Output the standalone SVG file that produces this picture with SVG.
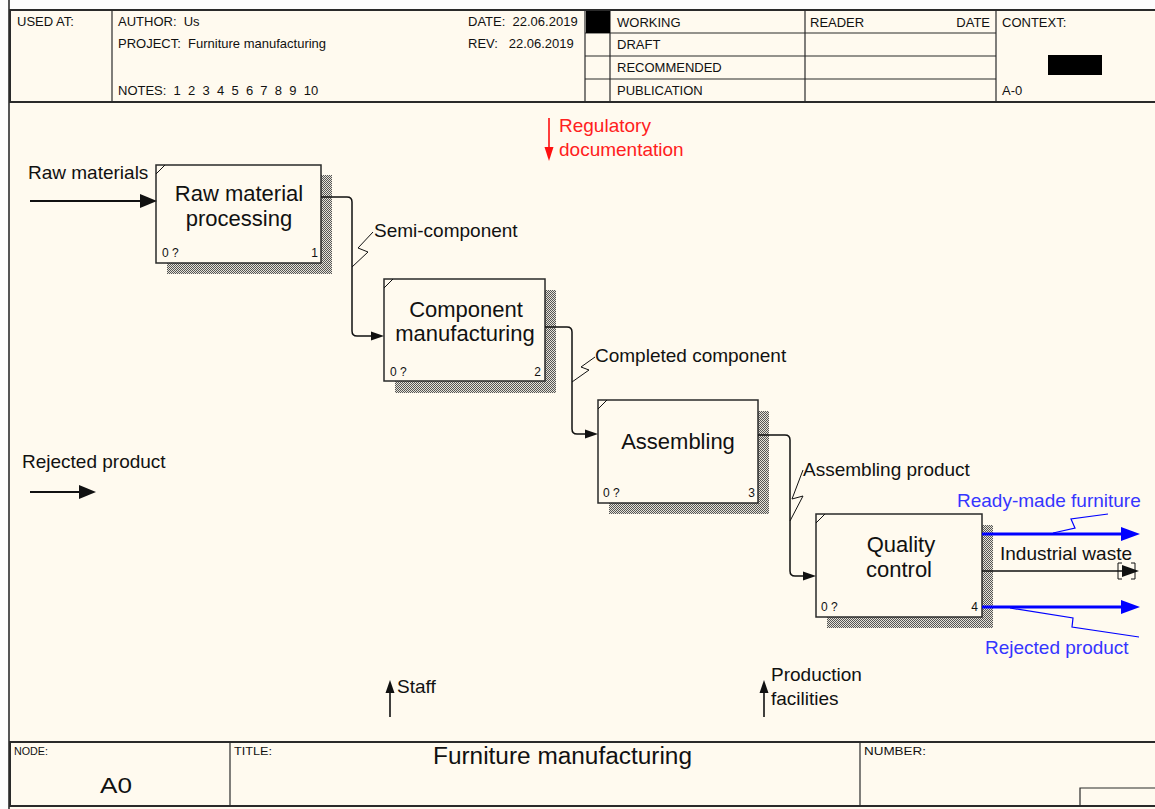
<svg xmlns="http://www.w3.org/2000/svg" width="1155" height="809" viewBox="0 0 1155 809">
<style>
.bg{fill:#fffaef}
.frame{fill:none;stroke:#2a2a2a;stroke-width:2}
.thin{fill:none;stroke:#2a2a2a;stroke-width:1.2}
.hdr{font-family:"Liberation Sans",Arial,sans-serif;font-size:13px;fill:#111;white-space:pre}
.ftr{font-family:"Liberation Sans",Arial,sans-serif;fill:#111}
.box{fill:#fffaef;stroke:#2a2a2a;stroke-width:1.5}
.shadow{fill:url(#hatch)}
.btxt{font-family:"Liberation Sans",Arial,sans-serif;font-size:22px;fill:#111;text-anchor:middle}
.num{font-family:"Liberation Sans",Arial,sans-serif;font-size:12px;fill:#111}
.lbl{font-family:"Liberation Sans",Arial,sans-serif;font-size:19px;fill:#111}
.blue{fill:#3535ff}
.red{fill:#ff2020}
.conn{fill:none;stroke:#111;stroke-width:1.5}
.sq{fill:none;stroke:#111;stroke-width:1}
.head{fill:#111}
</style>
<defs>
<pattern id="hatch" width="2" height="2" patternUnits="userSpaceOnUse">
<rect width="2" height="2" fill="#e6e2d8"/>
<rect width="1" height="1" fill="#555"/>
<rect x="1" y="1" width="1" height="1" fill="#555"/>
</pattern>
</defs>
<rect width="1155" height="809" fill="#fdfdfd"/>
<rect x="10" y="10" width="1145" height="799" class="bg"/>
<line x1="9" y1="0" x2="9" y2="809" stroke="#555" stroke-width="2"/>

<g id="header">
<rect x="10" y="10" width="1150" height="92" class="frame"/>
<line x1="112" y1="10" x2="112" y2="102" class="thin"/>
<line x1="585" y1="10" x2="585" y2="102" class="thin"/>
<line x1="610" y1="10" x2="610" y2="102" class="thin"/>
<line x1="805" y1="10" x2="805" y2="102" class="thin"/>
<line x1="996" y1="10" x2="996" y2="102" class="thin"/>
<line x1="585" y1="33" x2="996" y2="33" class="thin"/>
<line x1="585" y1="56" x2="996" y2="56" class="thin"/>
<line x1="585" y1="79" x2="996" y2="79" class="thin"/>
<rect x="586" y="11" width="24" height="22" fill="#000"/>
<rect x="1048" y="55" width="54" height="20" fill="#000"/>
<text class="hdr" x="17" y="26">USED AT:</text>
<text class="hdr" x="118" y="26">AUTHOR:  Us</text>
<text class="hdr" x="118" y="48">PROJECT:  Furniture manufacturing</text>
<text class="hdr" x="118" y="95">NOTES:  1  2  3  4  5  6  7  8  9  10</text>
<text class="hdr" x="468" y="26">DATE:  22.06.2019</text>
<text class="hdr" x="468" y="48">REV:   22.06.2019</text>
<text class="hdr" x="617" y="27">WORKING</text>
<text class="hdr" x="617" y="49">DRAFT</text>
<text class="hdr" x="617" y="72">RECOMMENDED</text>
<text class="hdr" x="617" y="95">PUBLICATION</text>
<text class="hdr" x="810" y="27">READER</text>
<text class="hdr" x="990" y="27" text-anchor="end">DATE</text>
<text class="hdr" x="1002" y="27">CONTEXT:</text>
<text class="hdr" x="1002" y="95">A-0</text>
</g>

<g id="footer">
<rect x="10" y="742" width="1150" height="64" class="frame"/>
<line x1="230" y1="742" x2="230" y2="806" class="thin"/>
<line x1="860" y1="742" x2="860" y2="806" class="thin"/>
<polyline points="1080,806 1080,788 1156,788" class="thin"/>
<text class="ftr" x="14" y="755" font-size="11" textLength="34" lengthAdjust="spacingAndGlyphs">NODE:</text>
<text class="ftr" x="100" y="793" font-size="22" textLength="32" lengthAdjust="spacingAndGlyphs">A0</text>
<text class="ftr" x="234" y="755" font-size="11" textLength="38" lengthAdjust="spacingAndGlyphs">TITLE:</text>
<text class="ftr" x="433" y="764" font-size="23" textLength="259" lengthAdjust="spacingAndGlyphs">Furniture manufacturing</text>
<text class="ftr" x="864" y="755" font-size="11" textLength="62" lengthAdjust="spacingAndGlyphs">NUMBER:</text>
</g>

<g id="node1">
<rect x="167" y="175" width="165" height="99" class="shadow"/>
<rect x="156" y="165" width="165" height="98" class="box"/>
<line x1="156" y1="174" x2="165" y2="165" class="sq"/>
<text class="btxt" x="239" y="201">Raw material</text>
<text class="btxt" x="239" y="226">processing</text>
<text class="num" x="162" y="257">0 ?</text>
<text class="num" x="318" y="257" text-anchor="end">1</text>
</g>

<g id="node2">
<rect x="395" y="290" width="161" height="103" class="shadow"/>
<rect x="384" y="279" width="161" height="102" class="box"/>
<line x1="384" y1="288" x2="393" y2="279" class="sq"/>
<text class="btxt" x="466" y="317">Component</text>
<text class="btxt" x="465" y="341">manufacturing</text>
<text class="num" x="390" y="376">0 ?</text>
<text class="num" x="541" y="376" text-anchor="end">2</text>
</g>

<g id="node3">
<rect x="609" y="411" width="160" height="103" class="shadow"/>
<rect x="598" y="400" width="160" height="103" class="box"/>
<line x1="598" y1="409" x2="607" y2="400" class="sq"/>
<text class="btxt" x="678" y="449">Assembling</text>
<text class="num" x="603" y="497">0 ?</text>
<text class="num" x="755" y="497" text-anchor="end">3</text>
</g>

<g id="node4">
<rect x="827" y="525" width="166" height="103" class="shadow"/>
<rect x="816" y="514" width="166" height="103" class="box"/>
<line x1="816" y1="523" x2="825" y2="514" class="sq"/>
<text class="btxt" x="901" y="552">Quality</text>
<text class="btxt" x="899" y="577">control</text>
<text class="num" x="821" y="611">0 ?</text>
<text class="num" x="978" y="611" text-anchor="end">4</text>
</g>

<g id="connectors">
<line x1="30" y1="201" x2="143" y2="201" stroke="#111" stroke-width="2.2"/>
<polygon points="140,194 157,201 140,208" class="head"/>
<text class="lbl" x="28" y="179">Raw materials</text>

<line x1="30" y1="492" x2="82" y2="492" stroke="#111" stroke-width="2.2"/>
<polygon points="79,485 96,492 79,499" class="head"/>
<text class="lbl" x="22" y="468">Rejected product</text>

<line x1="549" y1="118" x2="549" y2="150" stroke="#ff1010" stroke-width="1.6"/>
<polygon points="544.5,147 549,161 553.5,147" fill="#ff1010"/>
<text class="lbl red" x="559" y="132">Regulatory</text>
<text class="lbl red" x="559" y="156">documentation</text>

<line x1="390" y1="717" x2="390" y2="690" stroke="#111" stroke-width="1.6"/>
<polygon points="385.5,693 390,680 394.5,693" class="head"/>
<text class="lbl" x="397" y="693">Staff</text>

<line x1="764" y1="717" x2="764" y2="690" stroke="#111" stroke-width="1.6"/>
<polygon points="759.5,693 764,680 768.5,693" class="head"/>
<text class="lbl" x="771" y="681">Production</text>
<text class="lbl" x="771" y="705">facilities</text>

<path d="M321,197 H347 Q352,197 352,202 V331 Q352,336 357,336 H374" class="conn"/>
<polygon points="371,331.5 384,336 371,340.5" class="head"/>
<polyline points="352,267 368,252 358,248 373,232" class="sq"/>
<text class="lbl" x="374" y="237">Semi-component</text>

<path d="M545,327 H567 Q572,327 572,332 V429 Q572,434 577,434 H588" class="conn"/>
<polygon points="585,429.5 598,434 585,438.5" class="head"/>
<polyline points="572,382 589,370 581,367 595,357" class="sq"/>
<text class="lbl" x="595" y="362">Completed component</text>

<path d="M758,435 H785 Q790,435 790,440 V571 Q790,576 795,576 H806" class="conn"/>
<polygon points="803,571.5 816,576 803,580.5" class="head"/>
<polyline points="790,521 803,496 792,499 803,470" class="sq"/>
<text class="lbl" x="803" y="476">Assembling product</text>

<line x1="982" y1="534" x2="1124" y2="534" stroke="#0000ff" stroke-width="3"/>
<polygon points="1121,527 1140,534 1121,541" fill="#0000ff"/>
<polyline points="1053,533 1075,528 1071,519 1108,514" fill="none" stroke="#0000ff" stroke-width="1.2"/>
<text class="lbl blue" x="957" y="507">Ready-made furniture</text>

<line x1="982" y1="571" x2="1126" y2="571" stroke="#111" stroke-width="1.5"/>
<polygon points="1122,565 1139,571 1122,577" class="head"/>
<polyline points="1122,563 1118,563 1118,579 1122,579" class="sq" stroke-width="1.5"/>
<polyline points="1131,563 1135,563 1135,579 1131,579" class="sq" stroke-width="1.5"/>
<text class="lbl" x="1000" y="560">Industrial waste</text>

<line x1="982" y1="607" x2="1124" y2="607" stroke="#0000ff" stroke-width="3"/>
<polygon points="1121,600 1140,607 1121,614" fill="#0000ff"/>
<polyline points="1010,608 1073,618 1072,627 1139,637" fill="none" stroke="#0000ff" stroke-width="1.2"/>
<text class="lbl blue" x="985" y="654">Rejected product</text>
</g>
</svg>
